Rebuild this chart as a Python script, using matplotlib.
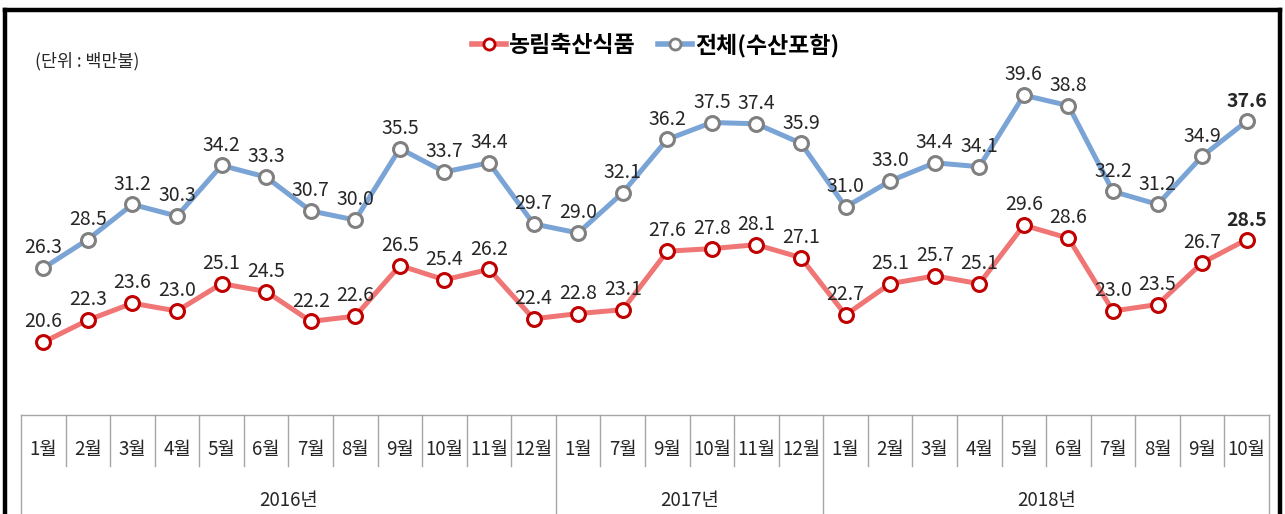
import matplotlib
matplotlib.use("Agg")
import matplotlib.pyplot as plt
from matplotlib.lines import Line2D

plt.rcParams['font.family'] = ['Noto Sans CJK KR', 'DejaVu Sans']

# 월별 수출액 (단위: 백만불)
years = ['2016년', '2017년', '2018년']
months_2016 = ['1월', '2월', '3월', '4월', '5월', '6월', '7월', '8월', '9월', '10월', '11월', '12월']
months_2017 = ['1월', '7월', '9월', '10월', '11월', '12월']
months_2018 = ['1월', '2월', '3월', '4월', '5월', '6월', '7월', '8월', '9월', '10월']
months = months_2016 + months_2017 + months_2018
year_sizes = [len(months_2016), len(months_2017), len(months_2018)]

agri = [20.6, 22.3, 23.6, 23.0, 25.1, 24.5, 22.2, 22.6, 26.5, 25.4, 26.2, 22.4,
        22.8, 23.1, 27.6, 27.8, 28.1, 27.1,
        22.7, 25.1, 25.7, 25.1, 29.6, 28.6, 23.0, 23.5, 26.7, 28.5]
total = [26.3, 28.5, 31.2, 30.3, 34.2, 33.3, 30.7, 30.0, 35.5, 33.7, 34.4, 29.7,
         29.0, 32.1, 36.2, 37.5, 37.4, 35.9,
         31.0, 33.0, 34.4, 34.1, 39.6, 38.8, 32.2, 31.2, 34.9, 37.6]

fig = plt.figure(figsize=(12.85, 5.14), dpi=100)
ax = fig.add_axes([21 / 1285, 1 - 415 / 514, 1248 / 1285, 390 / 514])

x = list(range(len(months)))
red_line = '#f07575'
red_edge = '#c00000'
blue_line = '#7ba4d6'
blue_edge = '#808080'

ax.plot(x, total, color=blue_line, lw=3.6, marker='o', ms=10,
        mfc='white', mec=blue_edge, mew=2.2, zorder=3)
ax.plot(x, agri, color=red_line, lw=3.6, marker='o', ms=10,
        mfc='white', mec=red_edge, mew=2.2, zorder=3)

last = len(x) - 1
for i in x:
    for series in (agri, total):
        ax.annotate(f'{series[i]:.1f}', (i, series[i]), xytext=(0, 7),
                    textcoords='offset points', ha='center', va='bottom',
                    fontsize=14, color='#262626',
                    fontweight='bold' if i == last else 'normal')

ax.set_xlim(-0.5, len(x) - 0.5)
ax.set_ylim(15, 45)
ax.axis('off')

# category table under the plot
tr = ax.get_xaxis_transform()
grid_c = '#a6a6a6'
ax.plot([-0.5, len(x) - 0.5], [0, 0], color=grid_c, lw=1, transform=tr, clip_on=False)
year_edges = [-0.5]
for n in year_sizes:
    year_edges.append(year_edges[-1] + n)
for i in range(len(x) + 1):
    b = i - 0.5
    bottom = -0.3 if b in year_edges else -0.13
    ax.plot([b, b], [0, bottom], color=grid_c, lw=1, transform=tr, clip_on=False)
for i, m in enumerate(months):
    ax.text(i, -0.088, m, transform=tr, ha='center', va='center', fontsize=13.5, color='#262626')
for k, yname in enumerate(years):
    mid = (year_edges[k] + year_edges[k + 1]) / 2
    ax.text(mid, -0.218, yname, transform=tr, ha='center', va='center', fontsize=13.5, color='#262626')

# legend
handles = [
    Line2D([], [], color=red_line, lw=4, marker='o', ms=8, mfc='white', mec=red_edge, mew=2),
    Line2D([], [], color=blue_line, lw=4, marker='o', ms=8, mfc='white', mec=blue_edge, mew=2),
]
fig.legend(handles, ['농림축산식품', '전체(수산포함)'], loc='center', bbox_to_anchor=(0.51, 0.912),
           ncol=2, frameon=False, handlelength=1.5, handletextpad=0.1, columnspacing=1.0,
           prop={'size': 16.5, 'weight': 'bold'})

fig.text(35 / 1285, 1 - 61 / 514, '(단위 : 백만불)', fontsize=12.5, color='#262626', va='center')

# outer frame
fr = fig.transFigure
for xs, ys in [([5 / 1285, 1280 / 1285], [1 - 10 / 514, 1 - 10 / 514]),
               ([5 / 1285, 5 / 1285], [0, 1 - 10 / 514]),
               ([1280 / 1285, 1280 / 1285], [0, 1 - 10 / 514])]:
    fig.add_artist(Line2D(xs, ys, color='black', lw=3.2, transform=fr))

fig.savefig('out.png', dpi=100)
